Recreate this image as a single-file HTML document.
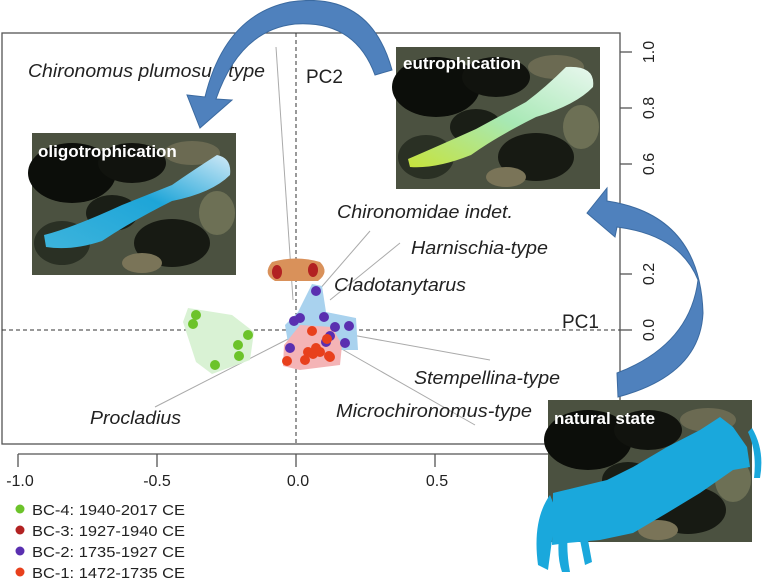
<!DOCTYPE html>
<html><head><meta charset="utf-8"><style>
html,body{margin:0;padding:0;background:#fff;width:768px;height:578px;overflow:hidden}
svg{display:block;font-family:"Liberation Sans",sans-serif}
.it{font-style:italic;font-size:18px;fill:#222}
</style></head><body>
<svg width="768" height="578" viewBox="0 0 768 578" xmlns="http://www.w3.org/2000/svg">
<defs>
<linearGradient id="gO" x1="0" y1="1" x2="1" y2="0"><stop offset="0" stop-color="#3db4dc"/><stop offset="0.55" stop-color="#1ea5d8"/><stop offset="1" stop-color="#cfe9f7"/></linearGradient>
<linearGradient id="gE" x1="0" y1="1" x2="1" y2="0"><stop offset="0" stop-color="#c6e23c"/><stop offset="0.5" stop-color="#a7e8b4"/><stop offset="1" stop-color="#e8f7ee"/></linearGradient>
<g id="camo">
<rect width="204" height="142" fill="#4b5140"/>
<ellipse cx="40" cy="40" rx="44" ry="30" fill="#0c0e0a"/>
<ellipse cx="100" cy="30" rx="34" ry="20" fill="#11130e"/>
<ellipse cx="160" cy="20" rx="28" ry="12" fill="#6b6a52"/>
<ellipse cx="30" cy="110" rx="28" ry="22" fill="#2a3024"/>
<ellipse cx="140" cy="110" rx="38" ry="24" fill="#171a13"/>
<ellipse cx="80" cy="80" rx="26" ry="18" fill="#1a1e16"/>
<ellipse cx="185" cy="80" rx="18" ry="22" fill="#6d7055"/>
<ellipse cx="110" cy="130" rx="20" ry="10" fill="#7a7458"/>
</g>
</defs>
<rect x="2" y="33" width="618" height="411" fill="none" stroke="#555" stroke-width="1.3"/>
<line x1="296" y1="33" x2="296" y2="444" stroke="#333" stroke-dasharray="4,3"/>
<line x1="2" y1="330" x2="620" y2="330" stroke="#333" stroke-dasharray="4,3"/>
<g stroke="#555" stroke-width="1.3">
<line x1="18" y1="454" x2="620" y2="454"/>
<line x1="18" y1="454" x2="18" y2="467"/><line x1="157" y1="454" x2="157" y2="467"/>
<line x1="296" y1="454" x2="296" y2="467"/><line x1="435" y1="454" x2="435" y2="467"/>
<line x1="620" y1="52" x2="632" y2="52"/><line x1="620" y1="108" x2="632" y2="108"/>
<line x1="620" y1="164" x2="632" y2="164"/><line x1="620" y1="274" x2="632" y2="274"/>
<line x1="620" y1="330" x2="632" y2="330"/>
</g>
<g font-size="16" fill="#222" text-anchor="middle">
<text x="20" y="486">-1.0</text><text x="157" y="486">-0.5</text>
<text x="298" y="486">0.0</text><text x="437" y="486">0.5</text>
</g>
<g font-size="16" fill="#222" text-anchor="middle">
<text transform="translate(654,52) rotate(-90)">1.0</text>
<text transform="translate(654,108) rotate(-90)">0.8</text>
<text transform="translate(654,164) rotate(-90)">0.6</text>
<text transform="translate(654,274) rotate(-90)">0.2</text>
<text transform="translate(654,330) rotate(-90)">0.0</text>
</g>
<g stroke="#aaa" stroke-width="1">
<line x1="276" y1="47" x2="293" y2="300"/>
<line x1="370" y1="231" x2="312" y2="298"/>
<line x1="400" y1="243" x2="330" y2="300"/>
<line x1="490" y1="360" x2="352" y2="335"/>
<line x1="475" y1="425" x2="340" y2="348"/>
<line x1="155" y1="407" x2="290" y2="338"/>
</g>
<path d="M272,262 Q296,255 320,262 Q330,272 318,281 L275,281 Q262,274 272,262Z" fill="#d9915a"/>
<path d="M188,308 L232,315 L254,332 L250,360 L212,374 L196,362 L183,322Z" fill="#d9f2d4"/>
<path d="M312,284 L322,286 L326,312 L356,318 L358,350 L340,350 L320,343 L290,355 L285,325 L298,312Z" fill="#a9d2ee"/>
<path d="M300,325 L332,327 L342,345 L340,365 L300,370 L283,366 L284,345Z" fill="#f4b4b6"/>
<ellipse cx="277" cy="272" rx="5" ry="7" fill="#b22222"/><ellipse cx="313" cy="270" rx="5" ry="7" fill="#b22222"/>
<circle cx="316" cy="291" r="5" fill="#5a2fb0"/><circle cx="294" cy="321" r="5" fill="#5a2fb0"/><circle cx="300" cy="318" r="5" fill="#5a2fb0"/><circle cx="324" cy="317" r="5" fill="#5a2fb0"/><circle cx="335" cy="327" r="5" fill="#5a2fb0"/><circle cx="349" cy="326" r="5" fill="#5a2fb0"/><circle cx="345" cy="343" r="5" fill="#5a2fb0"/><circle cx="330" cy="336" r="5" fill="#5a2fb0"/><circle cx="290" cy="348" r="5" fill="#5a2fb0"/><circle cx="326" cy="342" r="5" fill="#5a2fb0"/>
<circle cx="312" cy="331" r="5" fill="#e8401c"/><circle cx="327" cy="339" r="5" fill="#e8401c"/><circle cx="308" cy="352" r="5" fill="#e8401c"/><circle cx="313" cy="354" r="5" fill="#e8401c"/><circle cx="320" cy="352" r="5" fill="#e8401c"/><circle cx="330" cy="357" r="5" fill="#e8401c"/><circle cx="287" cy="361" r="5" fill="#e8401c"/><circle cx="305" cy="360" r="5" fill="#e8401c"/><circle cx="329" cy="356" r="5" fill="#e8401c"/><circle cx="316" cy="348" r="5" fill="#e8401c"/>
<circle cx="196" cy="315" r="5" fill="#6cc32a"/><circle cx="193" cy="324" r="5" fill="#6cc32a"/><circle cx="248" cy="335" r="5" fill="#6cc32a"/><circle cx="238" cy="345" r="5" fill="#6cc32a"/><circle cx="239" cy="356" r="5" fill="#6cc32a"/><circle cx="215" cy="365" r="5" fill="#6cc32a"/>
<text class="it" x="28" y="77" textLength="237" lengthAdjust="spacingAndGlyphs">Chironomus plumosus-type</text>
<text x="306" y="83" font-size="19" fill="#222">PC2</text>
<text class="it" x="337" y="218" textLength="176" lengthAdjust="spacingAndGlyphs">Chironomidae indet.</text>
<text class="it" x="411" y="254" textLength="137" lengthAdjust="spacingAndGlyphs">Harnischia-type</text>
<text class="it" x="334" y="291" textLength="132" lengthAdjust="spacingAndGlyphs">Cladotanytarus</text>
<text x="562" y="328" font-size="19" fill="#222">PC1</text>
<text class="it" x="414" y="384" textLength="146" lengthAdjust="spacingAndGlyphs">Stempellina-type</text>
<text class="it" x="336" y="417" textLength="196" lengthAdjust="spacingAndGlyphs">Microchironomus-type</text>
<text class="it" x="90" y="424" textLength="91" lengthAdjust="spacingAndGlyphs">Procladius</text>
<g transform="translate(32,133)"><use href="#camo"/>
<path d="M12,102 Q40,95 90,72 L140,52 Q160,38 185,22 Q200,25 198,42 Q180,60 140,68 Q100,88 70,108 Q40,118 14,114Z" fill="url(#gO)"/>
<text x="6" y="24" font-size="17" font-weight="bold" fill="#fff">oligotrophication</text></g>
<g transform="translate(396,47)"><use href="#camo"/>
<path d="M12,112 Q40,100 80,82 L130,55 Q150,40 170,20 Q200,18 197,40 Q180,58 140,70 Q100,90 75,108 Q40,122 14,120Z" fill="url(#gE)"/>
<text x="7" y="22" font-size="17" font-weight="bold" fill="#fff">eutrophication</text></g>
<g transform="translate(548,400)"><use href="#camo"/></g>
<path d="M553,493 L607,480 L633,467 L667,447 L700,430 L720,417 L733,427 L747,447 L750,467 L733,470 L700,493 L667,513 L633,533 L600,540 L567,543 L552,545Z" fill="#1aa8dc"/>
<path d="M550,495 Q532,520 538,565 L548,570 Q552,540 556,510Z M560,530 Q556,555 562,572 L570,572 Q566,550 568,532Z M580,540 L585,565 L592,562 L588,540Z" fill="#1aa8dc"/>
<path d="M752,428 Q765,450 760,478 L754,478 Q757,452 748,432Z" fill="#1aa8dc"/>
<text x="554" y="424" font-size="17" font-weight="bold" fill="#fff">natural state</text>
<path d="M392,70 Q370,-10 290,2 Q225,15 205,97 L187,95 L200,128 L232,100 L216,99 Q240,30 295,24 Q355,20 375,75Z" fill="#4f81bd" stroke="#3b6aa0" stroke-width="1"/>
<path d="M587,213 L607,188 L607,201 Q700,215 703,313 Q700,375 618,397 L617,373 Q690,345 698,280 Q680,235 617,227 L615,237 Z" fill="#4f81bd" stroke="#3b6aa0" stroke-width="1"/>
<g font-size="15" fill="#222">
<circle cx="20" cy="509" r="4.5" fill="#6cc32a"/><text x="32" y="515" textLength="153" lengthAdjust="spacingAndGlyphs">BC-4: 1940-2017 CE</text>
<circle cx="20" cy="530" r="4.5" fill="#b22222"/><text x="32" y="536" textLength="153" lengthAdjust="spacingAndGlyphs">BC-3: 1927-1940 CE</text>
<circle cx="20" cy="551" r="4.5" fill="#5a2fb0"/><text x="32" y="557" textLength="153" lengthAdjust="spacingAndGlyphs">BC-2: 1735-1927 CE</text>
<circle cx="20" cy="572" r="4.5" fill="#e8401c"/><text x="32" y="578" textLength="153" lengthAdjust="spacingAndGlyphs">BC-1: 1472-1735 CE</text>
</g>
</svg>
</body></html>
